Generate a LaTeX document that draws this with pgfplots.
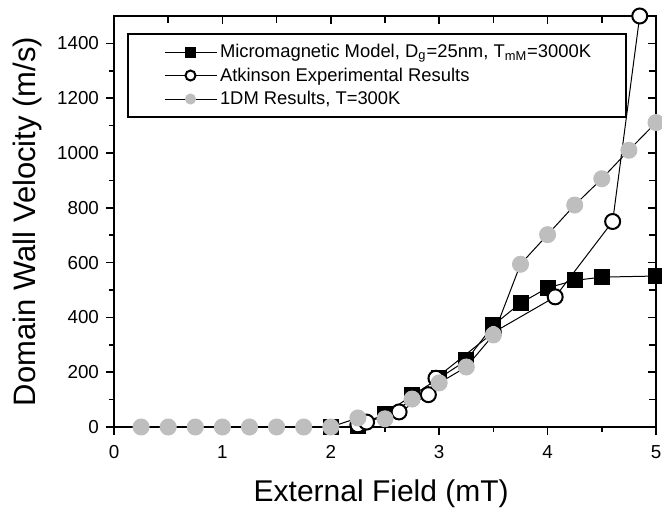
\documentclass[border=0pt]{standalone}
\usepackage{fontspec}
\setmainfont{Liberation Sans}
\usepackage{pgfplots}
\pgfplotsset{compat=1.18}
\definecolor{lgray}{RGB}{190,190,190}
\newcommand{\LE}[1]{\makebox[201.5pt][l]{#1}}
\begin{document}
\begin{tikzpicture}
\pgfplotsset{
  common/.style={scale only axis, width=271pt, height=205.5pt, xmin=0, xmax=5, ymin=0, ymax=1500,
   xtick={0,1,2,3,4,5}, minor x tick num=1, ytick={0,200,...,1400}, minor y tick num=1,
   axis line style={line width=1pt},
   every tick/.append style={black, line width=0.8pt}},
}
\begin{axis}[common, tick pos=right, tick align=inside, xticklabels={}, yticklabels={},
  major tick length=4pt, minor tick length=3.5pt]
\end{axis}
\begin{axis}[common, tick pos=left, tick align=outside,
  major tick length=4pt, minor tick length=2.5pt,
  ticklabel style={font=\fontsize{9.4}{11}\selectfont},
  xticklabel style={yshift=-1.5pt},
  /pgf/number format/assume math mode=true,
  /pgf/number format/1000 sep={},
  xlabel={External Field (mT)}, ylabel={Domain Wall Velocity (m/s)},
  xlabel style={font=\fontsize{15}{18}\selectfont, at={(axis description cs:0.493,-0.163)}, anchor=center},
  ylabel style={font=\fontsize{15.5}{18}\selectfont, at={(axis description cs:-0.1605,0.5)}, anchor=center},
  legend style={at={(axis description cs:0.024,0.9586)}, anchor=north west, draw=black, line width=1pt, inner xsep=0pt, inner ysep=3.25pt, font=\fontsize{9.2}{11}\selectfont, row sep=0.25pt, nodes={inner xsep=1.5pt, inner ysep=0.5pt, text height=8pt, text depth=2.5pt}},
  legend cell align=left,
  legend image code/.code={\path (-18pt,0pt); \draw[mark repeat=2, mark phase=2, line width=0.5pt, mark size=2.5pt] plot coordinates {(0pt,0pt)(13pt,0pt)(26pt,0pt)};},
]
\addplot[black, line width=0.5pt, mark=square*, mark size=3.75pt, mark options={fill=black}] coordinates {
(2,0) (2.25,3) (2.5,48) (2.75,115) (3,178) (3.25,243) (3.5,372) (3.75,452) (4,508) (4.25,535) (4.5,547) (5,551)};
\addlegendentry{\LE{Micromagnetic Model, D\textsubscript{g}=25nm, T\textsubscript{mM}=3000K}}
\addplot[black, line width=0.5pt, mark=*, mark size=3.75pt, mark options={fill=white, line width=1pt}] coordinates {
(2.25,8) (2.33,18) (2.63,55) (2.9,118) (2.97,178) (3.5,345) (4.07,475) (4.6,750) (4.85,1500)};
\addlegendentry{\LE{Atkinson Experimental Results}}
\addplot[black, line width=0.5pt, mark=*, mark size=4pt, mark options={fill=lgray, draw=lgray}] coordinates {
(0.25,0) (0.5,0) (0.75,0) (1,0) (1.25,0) (1.5,0) (1.75,0) (2,0) (2.25,33) (2.5,30) (2.75,102) (3,161) (3.25,219) (3.5,336) (3.75,594) (4,702) (4.25,810) (4.5,906) (4.75,1010) (5,1111)};
\addlegendentry{\LE{1DM Results, T=300K}}
\coordinate (bl) at (rel axis cs:0,0);
\coordinate (tr) at (rel axis cs:1,1);
\end{axis}
\pgfresetboundingbox
\path ([shift={(-57pt,-40.5pt)}]bl) rectangle ([shift={(3pt,8pt)}]tr);
\end{tikzpicture}
\end{document}
